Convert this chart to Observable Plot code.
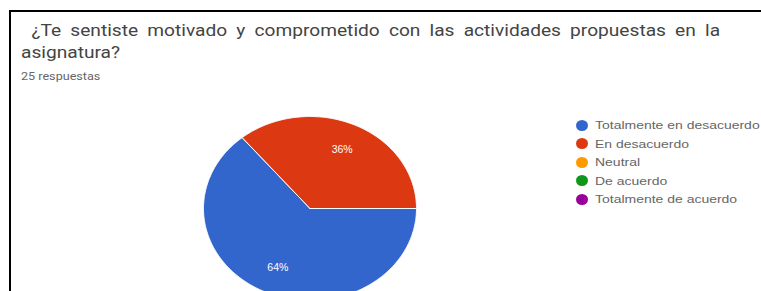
<!DOCTYPE html>
<html><head><meta charset="utf-8">
<script src="https://cdn.jsdelivr.net/npm/d3@7"></script>
<script src="https://cdn.jsdelivr.net/npm/@observablehq/plot@0.6"></script>
<style>
html,body{margin:0;padding:0;background:#fff;overflow:hidden;width:761px;height:291px;}
#wrap{position:relative;width:761px;height:291px;}
#frame{position:absolute;left:9px;top:10px;right:-5px;bottom:-5px;border-left:2px solid #000;border-top:2px solid #000;}
#title{position:absolute;left:21px;top:20px;width:610px;font-family:Roboto,sans-serif;font-size:16.5px;line-height:22px;color:#444;text-indent:9px;word-spacing:3.8px;transform:scaleX(1.16);transform-origin:0 0;}
#sub{position:absolute;left:21px;top:70px;font-family:Roboto,sans-serif;font-size:10.5px;color:#666;transform:scaleX(1.2);transform-origin:0 0;white-space:nowrap;}
#chart{position:absolute;left:0;top:0;}
#legend{position:absolute;left:576px;top:116px;font-family:"Liberation Sans",Arial,sans-serif;font-size:11px;color:#666;}
.it{height:18.5px;display:flex;align-items:center;white-space:nowrap;}
.sw{width:12px;height:11px;border-radius:50%;margin-right:7px;flex:none;}
.tx{display:inline-block;transform:scaleX(1.27);transform-origin:0 50%;}
</style></head>
<body><div id="wrap"><div id="frame"></div>
<div id="title"></div><div id="sub"></div><div id="chart"></div><div id="legend"></div></div>
<script>
const titleText = "¿Te sentiste motivado y comprometido con las actividades propuestas en la asignatura?";
const subtitleText = "25 respuestas";
const categories = ["Totalmente en desacuerdo","En desacuerdo","Neutral","De acuerdo","Totalmente de acuerdo"];
const counts = [16, 9, 0, 0, 0];
const colors = ["#3366cc","#dc3912","#ff9900","#109618","#990099"];

document.getElementById("title").textContent = titleText;
document.getElementById("sub").textContent = subtitleText;

const total = d3.sum(counts);
const arcs = d3.pie().sort(null).startAngle(Math.PI/2).endAngle(Math.PI/2 + 2*Math.PI)(counts);
const pts = [];
const labels = [];
arcs.forEach((a, i) => {
  if (a.value <= 0) return;
  const cat = categories[i];
  pts.push({cat, x: 0, y: 0});
  const n = Math.max(2, Math.ceil((a.endAngle - a.startAngle) / 0.01));
  for (let k = 0; k <= n; k++) {
    const t = a.startAngle + (a.endAngle - a.startAngle) * k / n;
    pts.push({cat, x: Math.sin(t), y: Math.cos(t)});
  }
  pts.push({cat, x: 0, y: 0});
  const m = (a.startAngle + a.endAngle) / 2;
  labels.push({cat, x: 0.71 * Math.sin(m), y: 0.71 * Math.cos(m), text: Math.round(a.value / total * 100) + "%"});
});

const plot = Plot.plot({
  width: 761, height: 291, margin: 0,
  x: {domain: [-1, 1], range: [203, 416], axis: null},
  y: {domain: [-1, 1], range: [300, 116], axis: null},
  color: {domain: categories, range: colors},
  style: {overflow: "hidden"},
  marks: [
    Plot.line(pts, {x: "x", y: "y", z: "cat", fill: "cat", stroke: "white", strokeWidth: 1, curve: "linear"}),
    Plot.text(labels, {x: "x", y: "y", text: "text", fill: "white", fontSize: 10.5, fontFamily: "Liberation Sans, Arial, sans-serif"})
  ]
});
document.getElementById("chart").appendChild(plot);

const lg = document.getElementById("legend");
categories.forEach((c, i) => {
  const d = document.createElement("div"); d.className = "it";
  const s = document.createElement("span"); s.className = "sw"; s.style.background = colors[i];
  const t = document.createElement("span"); t.className = "tx"; t.textContent = c;
  d.appendChild(s); d.appendChild(t); lg.appendChild(d);
});
</script></body></html>
